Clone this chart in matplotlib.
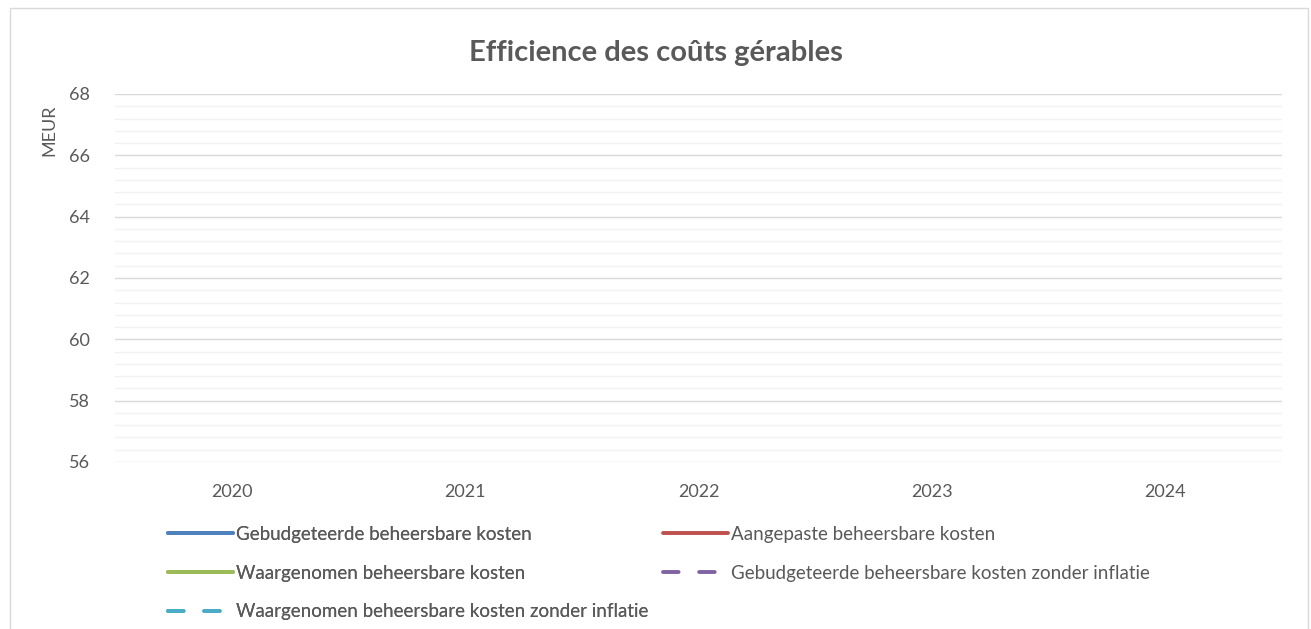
import numpy as np
import matplotlib
matplotlib.use('Agg')
import matplotlib.pyplot as plt
from matplotlib.patches import Rectangle
from matplotlib.ticker import MultipleLocator

plt.rcParams['font.family'] = ['Lato', 'DejaVu Sans']

years = ['2020', '2021', '2022', '2023', '2024']
# the reference shows no drawn values for any series
budgeted = [np.nan, np.nan, np.nan, np.nan, np.nan]
adjusted = [np.nan, np.nan, np.nan, np.nan, np.nan]
observed = [np.nan, np.nan, np.nan, np.nan, np.nan]
budgeted_no_infl = [np.nan, np.nan, np.nan, np.nan, np.nan]
observed_no_infl = [np.nan, np.nan, np.nan, np.nan, np.nan]

labels = ['Gebudgeteerde beheersbare kosten',
          'Aangepaste beheersbare kosten',
          'Waargenomen beheersbare kosten',
          'Gebudgeteerde beheersbare kosten zonder inflatie',
          'Waargenomen beheersbare kosten zonder inflatie']
colors = ['#4F81BD', '#C0504D', '#9BBB59', '#8064A2', '#4BACC6']

TXT = '#595959'
W, H = 1311, 629

fig = plt.figure(figsize=(W / 100, H / 100), dpi=100)
fig.patches.append(Rectangle((10 / W, -0.1), 1298 / W, 1.1 - 8 / H,
                             transform=fig.transFigure, fill=False,
                             edgecolor='#D9D9D9', linewidth=1))

ax = fig.add_axes([115 / W, 1 - 462 / H, 1167 / W, 368 / H])
x = np.arange(len(years))
series = [budgeted, adjusted, observed, budgeted_no_infl, observed_no_infl]
handles = []
for vals, lab, col, ls in zip(series, labels, colors,
                              ['-', '-', '-', '--', '--']):
    ln, = ax.plot(x, vals, color=col, lw=2.8, label=lab,
                  solid_capstyle='round', dash_capstyle='round')
    if ls == '--':
        ln.set_dashes((4.0, 5.3))
    handles.append(ln)

ax.set_xlim(-0.5, 4.5)
ax.set_ylim(56, 68)
ax.set_xticks(x)
ax.set_xticklabels(years)
ax.yaxis.set_major_locator(MultipleLocator(2))
ax.yaxis.set_minor_locator(MultipleLocator(0.4))
ax.grid(axis='y', which='major', color='#D9D9D9', lw=1)
ax.grid(axis='y', which='minor', color='#F2F2F2', lw=1)
ax.set_axisbelow(True)
for s in ax.spines.values():
    s.set_visible(False)
ax.tick_params(axis='both', which='both', length=0, colors=TXT, labelsize=13)
ax.tick_params(axis='y', pad=18)
ax.tick_params(axis='x', pad=16)

ax.set_ylabel('MEUR', color=TXT, fontsize=13)
ax.yaxis.set_label_coords(-0.049, 0.902)

fig.text(0.5, 1 - 53 / H, 'Efficience des coûts gérables', ha='center',
         va='center', fontsize=21, fontweight='bold', color=TXT)

leg_kw = dict(frameon=False, fontsize=13.5, labelcolor=TXT, handlelength=3.47,
              handletextpad=0.15, labelspacing=1.16, borderpad=0,
              borderaxespad=0, loc='upper left')
leg1 = fig.legend([handles[0], handles[2], handles[4]],
                  [labels[0], labels[2], labels[4]],
                  bbox_to_anchor=(168 / W, 1 - 526 / H), **leg_kw)
fig.add_artist(leg1)
fig.legend([handles[1], handles[3]], [labels[1], labels[3]],
           bbox_to_anchor=(663 / W, 1 - 526 / H), **leg_kw)

fig.savefig('out.png', dpi=100)
